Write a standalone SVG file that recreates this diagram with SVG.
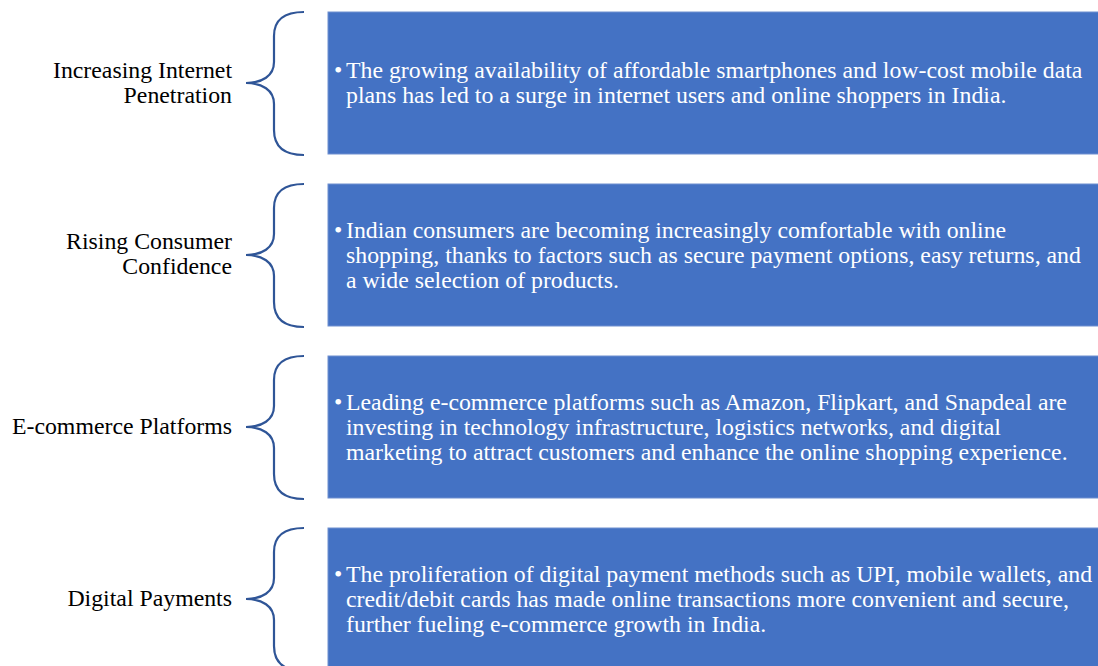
<svg xmlns="http://www.w3.org/2000/svg" width="1098" height="666" viewBox="0 0 1098 666">
<style>
.box{fill:#4472C4;stroke:#6F8FD0;stroke-width:1}
.brace{fill:none;stroke:#2F5597;stroke-width:2.2}
.lbl{font-family:"Liberation Serif",serif;font-size:23.8px;fill:#000;text-anchor:end}
.txt{font-family:"Liberation Serif",serif;font-size:23.8px;fill:#fff}
</style>
<rect width="1098" height="666" fill="#fff"/>
<g id="connectors">
<path class="brace" d="M304,12 C286,12 274,18 274,36 L274,62 C274,76 262,83 246,83 C262,83 274,90 274,104 L274,130 C274,148 286,155 304,155"/>
<path class="brace" d="M304,184 C286,184 274,190 274,208 L274,234 C274,248 262,255 246,255 C262,255 274,262 274,276 L274,302 C274,320 286,327 304,327"/>
<path class="brace" d="M304,356 C286,356 274,362 274,380 L274,406 C274,420 262,427 246,427 C262,427 274,434 274,448 L274,474 C274,492 286,499 304,499"/>
<path class="brace" d="M304,528 C286,528 274,534 274,552 L274,578 C274,592 262,599 246,599 C262,599 274,606 274,620 L274,646 C274,664 286,671 304,671"/>
</g>
<g id="node1">
<text class="lbl" x="232" y="78">Increasing Internet</text>
<text class="lbl" x="232" y="103">Penetration</text>
<rect class="box" x="328" y="12" width="772" height="142"/>
<text class="txt" x="334" y="78" font-size="18">•</text>
<text class="txt" x="346" y="78">The growing availability of affordable smartphones and low-cost mobile data</text>
<text class="txt" x="346" y="103">plans has led to a surge in internet users and online shoppers in India.</text>
</g>
<g id="node2">
<text class="lbl" x="232" y="249">Rising Consumer</text>
<text class="lbl" x="232" y="274">Confidence</text>
<rect class="box" x="328" y="184" width="772" height="142"/>
<text class="txt" x="334" y="238" font-size="18">•</text>
<text class="txt" x="346" y="238">Indian consumers are becoming increasingly comfortable with online</text>
<text class="txt" x="346" y="263">shopping, thanks to factors such as secure payment options, easy returns, and</text>
<text class="txt" x="346" y="288">a wide selection of products.</text>
</g>
<g id="node3">
<text class="lbl" x="232" y="434">E-commerce Platforms</text>
<rect class="box" x="328" y="356" width="772" height="142"/>
<text class="txt" x="334" y="410" font-size="18">•</text>
<text class="txt" x="346" y="410">Leading e-commerce platforms such as Amazon, Flipkart, and Snapdeal are</text>
<text class="txt" x="346" y="435">investing in technology infrastructure, logistics networks, and digital</text>
<text class="txt" x="346" y="460">marketing to attract customers and enhance the online shopping experience.</text>
</g>
<g id="node4">
<text class="lbl" x="232" y="606">Digital Payments</text>
<rect class="box" x="328" y="528" width="772" height="142"/>
<text class="txt" x="334" y="582" font-size="18">•</text>
<text class="txt" x="346" y="582">The proliferation of digital payment methods such as UPI, mobile wallets, and</text>
<text class="txt" x="346" y="607">credit/debit cards has made online transactions more convenient and secure,</text>
<text class="txt" x="346" y="632">further fueling e-commerce growth in India.</text>
</g>
</svg>
